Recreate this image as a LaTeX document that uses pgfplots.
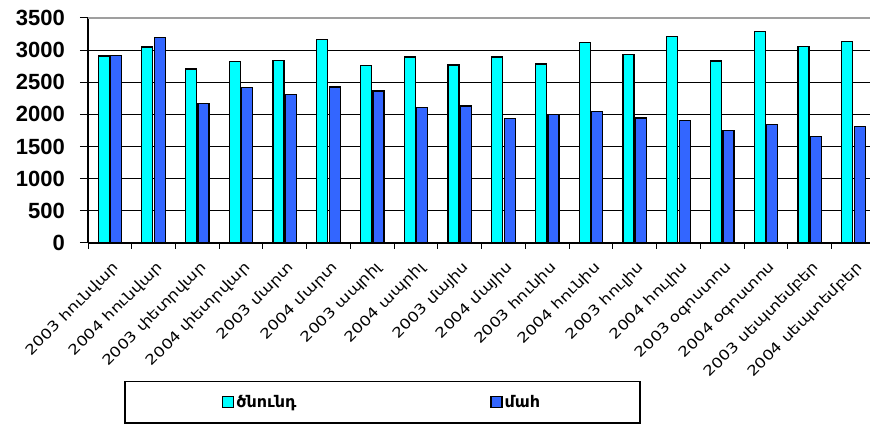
\documentclass[border=0pt]{standalone}
\usepackage{fontspec}
\setmainfont{Liberation Sans}
\newfontfamily\armfont[FakeStretch=1.2]{DejaVu Sans}
\newfontfamily\armlegend{DejaVu Sans}
\usepackage{pgfplots}
\pgfplotsset{compat=1.18}
\definecolor{birth}{HTML}{00FFFF}
\definecolor{death}{HTML}{3366FF}

\begin{document}
\begin{tikzpicture}[x=1pt,y=1pt]
\clip (0,0) rectangle (870,425);
\begin{axis}[
  at={(88pt,182pt)}, anchor=south west,
  width=787.3pt, height=225pt, scale only axis,
  ybar=1.5pt, bar width=11pt,
  xmin=-0.5, xmax=17.5, ymin=0, ymax=3500,
  ytick distance=500,
  xtick={0,...,17},
  xticklabels={2003 հունվար, 2004 հունվար, 2003 փետրվար, 2004 փետրվար,
    2003 մարտ, 2004 մարտ, 2003 ապրիլ, 2004 ապրիլ, 2003 մայիս, 2004 մայիս,
    2003 հունիս, 2004 հունիս, 2003 հուլիս, 2004 հուլիս, 2003 օգոստոս,
    2004 օգոստոս, 2003 սեպտեմբեր, 2004 սեպտեմբեր},
  minor xtick={-0.5,0.5,...,17.5},
  axis x line*=bottom, axis y line*=left,
  axis line style={black, line width=1.2pt},
  tick align=outside,
  major tick length=8pt, minor tick length=6pt,
  major x tick style={draw=none},
  minor x tick style={black, line width=1pt},
  ytick style={black, line width=1pt},
  ymajorgrids, grid style={black, line width=1pt},
  clip=false,
  /pgf/number format/assume math mode=true,
  /pgf/number format/1000 sep={},
  yticklabel style={font=\bfseries\fontsize{22}{24}\selectfont, anchor=east, inner sep=0pt, xshift=-15pt},
  xticklabel style={font=\armfont\fontsize{14}{16}\selectfont, rotate=45, anchor=north east, inner sep=1pt, xshift=-4pt, yshift=-7pt},
  every axis plot/.append style={draw=black, line width=1.2pt},
  legend columns=2,
  legend image code/.code={\draw[#1, line width=1.2pt] (0pt,-5.5pt) rectangle (11pt,5.5pt);},
  legend style={draw=none, fill=none, at={(0.1664,-0.7067)}, anchor=west,
    font=\armlegend\bfseries\fontsize{16}{18}\selectfont,
    /tikz/every even column/.append style={column sep=192pt}},
]
\addplot[fill=birth] coordinates {
  (0,2910) (1,3050) (2,2707) (3,2827) (4,2842) (5,3164) (6,2759) (7,2894) (8,2770)
  (9,2894) (10,2785) (11,3122) (12,2930) (13,3210) (14,2832) (15,3288) (16,3060) (17,3132)};
\addplot[fill=death] coordinates {
  (0,2912) (1,3195) (2,2173) (3,2422) (4,2308) (5,2427) (6,2365) (7,2106) (8,2132)
  (9,1940) (10,1997) (11,2043) (12,1945) (13,1903) (14,1753) (15,1841) (16,1654) (17,1810)};
\legend{ծնունդ, մահ}
\draw[gray!75, line width=1.6pt] (axis cs:-0.5,3500) -- (axis cs:17.5,3500);
\end{axis}
\draw[black, line width=1.6pt] (125,2) rectangle (640,43.5);
\end{tikzpicture}
\end{document}
